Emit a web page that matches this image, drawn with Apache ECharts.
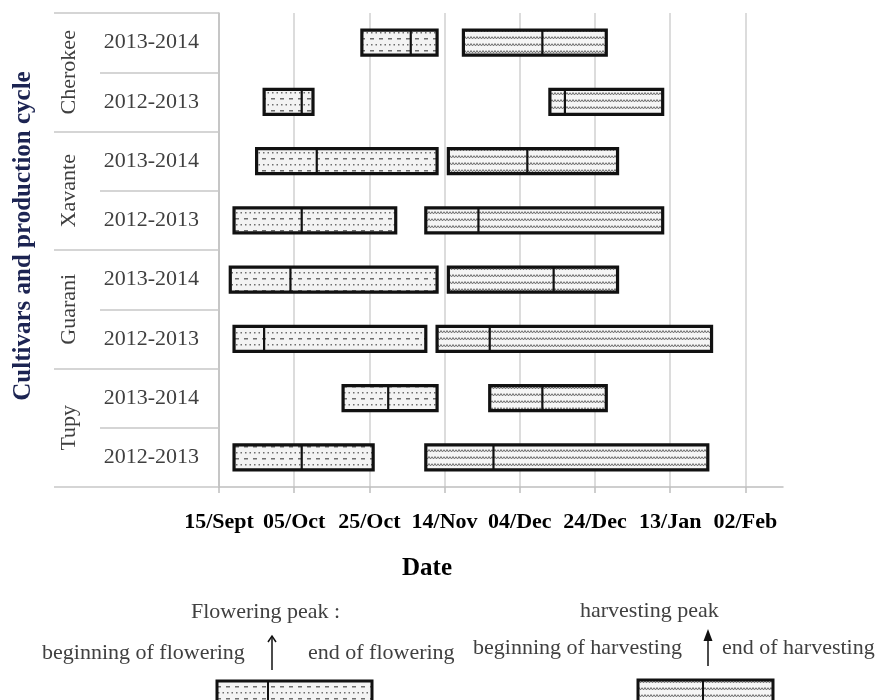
<!DOCTYPE html>
<html><head><meta charset="utf-8">
<script src="https://cdn.jsdelivr.net/npm/echarts@6/dist/echarts.min.js"></script>
<style>html,body{margin:0;padding:0;background:#fff}#c{width:880px;height:700px}</style>
</head><body><div id="c"></div>
<script>
// Rows top to bottom
const cycles = ['2013-2014','2012-2013','2013-2014','2012-2013','2013-2014','2012-2013','2013-2014','2012-2013'];
const cultivars = ['Cherokee','Xavante','Guarani','Tupy'];
// x ticks: days after 15 September
const tickValues = [0,20,40,60,80,100,120,140];
const tickLabels = ['15/Sept','05/Oct','25/Oct','14/Nov','04/Dec','24/Dec','13/Jan','02/Feb'];
// Flowering (days after 15/Sept)
const flowerStart = [38,12,10,4,3,4,33,4];
const flowerPeak  = [51,22,26,22,19,12,45,22];
const flowerEnd   = [58,25,58,47,58,55,58,41];
// Harvesting (days after 15/Sept)
const harvestStart = [65,88,61,55,61,58,72,55];
const harvestPeak  = [86,92,82,69,89,72,86,73];
const harvestEnd   = [103,118,106,118,106,131,103,130];

function makeFlowerPattern(){
  const c=document.createElement('canvas'); c.width=9; c.height=12;
  const g=c.getContext('2d');
  g.fillStyle='#f3f3f3'; g.fillRect(0,0,9,12);
  g.fillStyle='#6e6e6e';
  g.fillRect(1,2,4,1.5);
  g.fillRect(2,8,1.5,1.5); g.fillRect(6.5,8,1.5,1.5);
  return c;
}
function makeHarvestPattern(){
  const c=document.createElement('canvas'); c.width=6; c.height=7;
  const g=c.getContext('2d');
  g.fillStyle='#f5f5f5'; g.fillRect(0,0,6,7);
  g.strokeStyle='#6e6e6e'; g.lineWidth=1;
  g.beginPath(); g.moveTo(0,1.5); g.lineTo(1.5,4); g.lineTo(3,1.5); g.lineTo(4.5,4); g.lineTo(6,1.5); g.stroke();
  return c;
}
const flowerFill = {image: makeFlowerPattern(), repeat:'repeat'};
const harvestFill = {image: makeHarvestPattern(), repeat:'repeat'};

function buildData(s,p,e){ return cycles.map((_,i)=>[i,s[i],p[i],e[i]]); }

function makeRender(fill){
  return function(params, api){
    const row=api.value(0), s=api.value(1), p=api.value(2), e=api.value(3);
    const a=api.coord([s,row]), b=api.coord([e,row]), pk=api.coord([p,row]);
    const h=api.size([0,1])[1]*0.42;
    const y0=a[1]-h/2;
    return {type:'group', children:[
      {type:'rect', shape:{x:a[0],y:y0,width:b[0]-a[0],height:h}, style:{fill:fill, stroke:'#111', lineWidth:3.2}},
      {type:'line', shape:{x1:pk[0],y1:y0,x2:pk[0],y2:y0+h}, style:{stroke:'#111', lineWidth:2.2}}
    ]};
  };
}

const serif='Liberation Serif';
const gridLine={color:'#c8c8c8', width:1.5};

const chart=echarts.init(document.getElementById('c'),null,{renderer:'canvas'});
chart.setOption({
  animation:false,
  backgroundColor:'#fff',
  grid:{left:219, right:97, top:13, bottom:213, containLabel:false},
  xAxis:{type:'value', min:0, max:150, interval:20,
    axisLine:{show:true, lineStyle:{color:'#bfbfbf', width:1.5}},
    axisTick:{show:true, length:6, customValues:tickValues, lineStyle:{color:'#bfbfbf', width:1.5}},
    axisLabel:{customValues:tickValues, margin:24, fontFamily:serif, fontWeight:'bold', fontSize:22, color:'#000',
      formatter:v=>{const i=tickValues.indexOf(v); return i>=0?tickLabels[i]:'';}},
    splitLine:{show:true, lineStyle:{color:'#d0d0d0', width:1.5}}
  },
  yAxis:[
    {type:'category', data:cycles, inverse:true,
      axisLine:{show:true, lineStyle:{color:'#bfbfbf', width:1.5}},
      axisTick:{show:true, length:119, lineStyle:gridLine},
      axisLabel:{margin:20, fontFamily:serif, fontSize:22, color:'#3f3f3f'},
      splitLine:{show:false}},
    {type:'category', data:cultivars, inverse:true, position:'left',
      axisLine:{show:false},
      axisTick:{show:true, length:165, lineStyle:gridLine},
      axisLabel:{rotate:90, margin:139, fontFamily:serif, fontSize:22, color:'#3f3f3f'},
      splitLine:{show:false}}
  ],
  series:[
    {type:'custom', name:'Flowering', yAxisIndex:0, clip:false, encode:{x:[1,2,3], y:0},
      renderItem:makeRender(flowerFill), data:buildData(flowerStart,flowerPeak,flowerEnd)},
    {type:'custom', name:'Harvesting', yAxisIndex:0, clip:false, encode:{x:[1,2,3], y:0},
      renderItem:makeRender(harvestFill), data:buildData(harvestStart,harvestPeak,harvestEnd)}
  ],
  graphic:[
    {type:'text', x:24, y:236, rotation:Math.PI/2, style:{text:'Cultivars and production cycle', font:'bold 25px "Liberation Serif"', fill:'#1c2452', textAlign:'center', textVerticalAlign:'middle'}},
    {type:'text', x:427, y:569, style:{text:'Date', font:'bold 25px "Liberation Serif"', fill:'#000', textAlign:'center', textVerticalAlign:'middle'}},
    // Flowering legend
    {type:'text', x:191, y:612, style:{text:'Flowering peak :', font:'22px "Liberation Serif"', fill:'#404040', textAlign:'left', textVerticalAlign:'middle'}},
    {type:'text', x:42, y:653, style:{text:'beginning of flowering', font:'22px "Liberation Serif"', fill:'#404040', textAlign:'left', textVerticalAlign:'middle'}},
    {type:'text', x:308, y:653, style:{text:'end of flowering', font:'22px "Liberation Serif"', fill:'#404040', textAlign:'left', textVerticalAlign:'middle'}},
    {type:'line', shape:{x1:272,y1:670,x2:272,y2:636}, style:{stroke:'#111', lineWidth:1.5}},
    {type:'polyline', shape:{points:[[268,642],[272,636],[276,642]]}, style:{stroke:'#111', lineWidth:1.5, fill:null}},
    {type:'rect', shape:{x:217,y:681,width:155,height:30}, style:{fill:flowerFill, stroke:'#111', lineWidth:3}},
    {type:'line', shape:{x1:268,y1:681,x2:268,y2:711}, style:{stroke:'#111', lineWidth:2}},
    // Harvest legend
    {type:'text', x:580, y:611, style:{text:'harvesting peak', font:'22px "Liberation Serif"', fill:'#404040', textAlign:'left', textVerticalAlign:'middle'}},
    {type:'text', x:473, y:648, style:{text:'beginning of harvesting', font:'22px "Liberation Serif"', fill:'#404040', textAlign:'left', textVerticalAlign:'middle'}},
    {type:'text', x:722, y:648, style:{text:'end of harvesting', font:'22px "Liberation Serif"', fill:'#404040', textAlign:'left', textVerticalAlign:'middle'}},
    {type:'line', shape:{x1:708,y1:666,x2:708,y2:638}, style:{stroke:'#111', lineWidth:1.5}},
    {type:'polygon', shape:{points:[[703.5,641],[708,629],[712.5,641]]}, style:{fill:'#111'}},
    {type:'rect', shape:{x:638,y:680,width:135,height:30}, style:{fill:harvestFill, stroke:'#111', lineWidth:3}},
    {type:'line', shape:{x1:703,y1:680,x2:703,y2:710}, style:{stroke:'#111', lineWidth:2}}
  ]
});
</script>
</body></html>
